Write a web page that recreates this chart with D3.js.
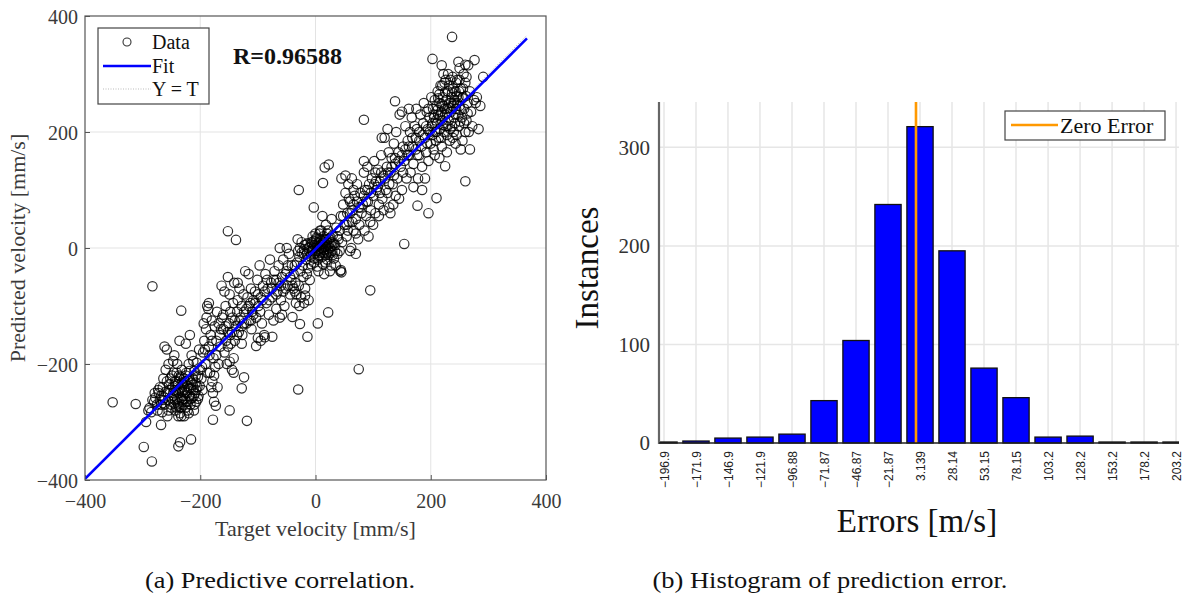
<!DOCTYPE html>
<html>
<head>
<meta charset="utf-8">
<script src="https://cdn.jsdelivr.net/npm/d3@7"></script>
<style>
  body { margin: 0; background: #fff; }
  svg { display: block; }
</style>
</head>
<body>
<svg id="fig" width="1198" height="600"></svg>
<script>
// ---------- (a) regression scatter: [target, predicted] in mm/s ----------
const samples = [
  // lower-left cluster
  [-290,-280],[-285,-283],[-288,-276],[-280,-265],[-278,-258],[-275,-270],[-272,-250],[-283,-262],[-270,-262],[-273,-245],
  [-268,-255],[-265,-240],[-262,-270],[-260,-248],[-258,-230],[-256,-262],[-255,-280],[-253,-245],[-252,-225],[-250,-258],
  [-264,-225],[-260,-210],[-258,-175],[-262,-170],[-255,-200],[-251,-270],[-266,-283],[-257,-290],
  [-248,-240],[-246,-255],[-245,-268],[-244,-230],[-243,-280],[-242,-248],[-241,-215],[-240,-260],[-239,-235],[-238,-272],
  [-237,-250],[-236,-225],[-235,-285],[-234,-242],[-233,-258],[-232,-210],[-231,-265],[-230,-235],[-249,-220],[-247,-195],
  [-245,-185],[-240,-200],[-236,-160],[-238,-290],[-233,-275],[-231,-248],[-244,-262],[-234,-222],
  [-228,-245],[-227,-260],[-226,-230],[-225,-275],[-224,-215],[-223,-250],[-222,-238],[-221,-265],[-220,-200],[-219,-255],
  [-218,-228],[-217,-270],[-216,-242],[-215,-185],[-214,-258],[-213,-225],[-212,-245],[-211,-280],[-210,-212],[-209,-250],
  [-208,-232],[-207,-265],[-206,-198],[-205,-240],[-204,-222],[-203,-255],[-202,-175],[-201,-238],[-200,-210],[-225,-165],
  [-218,-150],[-212,-195],[-228,-290],[-220,-285],
  [-247,-250],[-243,-238],[-239,-268],[-236,-245],[-232,-232],[-229,-255],[-226,-248],[-224,-265],[-221,-228],[-219,-242],
  [-216,-260],[-213,-236],[-210,-270],[-207,-245],[-204,-260],[-242,-275],[-237,-220],[-233,-290],[-229,-270],[-225,-220],
  [-222,-280],[-219,-212],[-215,-232],[-211,-255],[-208,-220],[-245,-245],[-241,-230],[-236,-275],[-232,-262],[-228,-225],
  [-254,-235],[-250,-275],[-246,-215],[-256,-250],[-262,-258],[-268,-270],[-274,-280],[-279,-250],[-270,-240],[-265,-262],
  // rising band
  [-198,-225],[-196,-245],[-195,-180],[-193,-160],[-191,-200],[-190,-140],[-189,-120],[-188,-100],[-186,-105],[-185,-170],
  [-183,-215],[-182,-150],[-180,-125],[-179,-230],[-178,-250],[-177,-190],[-176,-265],[-175,-135],[-174,-205],[-172,-160],
  [-171,-110],[-170,-240],[-185,-95],[-181,-240],[-197,-205],[-194,-130],
  [-192,-175],[-188,-215],[-184,-185],[-180,-160],[-176,-220],[-172,-185],[-168,-200],[-164,-140],[-160,-115],[-156,-135],
  [-152,-145],[-148,-150],[-144,-120],[-140,-160],[-136,-150],[-132,-125],[-128,-135],[-124,-110],[-120,-130],[-116,-100],
  [-112,-125],[-108,-115],[-104,-95],[-100,-80],[-96,-110],[-92,-90],[-88,-75],[-84,-55],[-80,-90],[-76,-70],
  [-72,-55],[-68,-80],[-64,-60],[-60,-65],[-56,-75],[-52,-45],[-48,-30],[-44,-50],[-40,-65],[-36,-30],
  [-168,-130],[-166,-150],[-165,-170],[-163,-65],[-162,-120],[-160,-140],[-158,-180],[-156,-100],[-155,-160],[-154,-200],
  [-152,-170],[-150,-130],[-149,-80],[-148,-110],[-147,-165],[-145,-145],[-143,-95],[-142,-190],[-141,-60],[-140,-125],
  [-152,-50],[-158,-75],[-145,-210],
  [-138,-135],[-136,-110],[-135,-90],[-133,-145],[-132,-70],[-130,-120],[-128,-100],[-127,-150],[-125,-80],[-124,-130],
  [-122,-40],[-120,-105],[-118,-85],[-116,-45],[-115,-125],[-113,-95],[-112,-70],[-111,-140],[-110,-110],[-135,-60],[-128,-165],
  [-108,-90],[-105,-75],[-103,-120],[-101,-55],[-99,-100],[-97,-30],[-95,-85],[-93,-130],[-91,-65],[-89,-150],
  [-87,-45],[-85,-95],[-83,-70],[-81,-115],[-79,-20],[-77,-60],[-75,-85],[-73,-125],[-71,-40],[-100,-155],[-95,-160],
  [-68,-55],[-66,-75],[-64,-30],[-62,0],[-60,-90],[-58,-50],[-56,-20],[-54,-100],[-52,-70],[-50,-40],
  [-48,-65],[-46,-10],[-44,-80],[-42,-55],[-41,-30],[-68,-105],[-62,-120],[-58,-115],[-50,0],
  [-38,-70],[-36,-75],[-35,-60],[-33,-80],[-32,-25],[-30,-5],[-29,-65],[-28,-15],[-27,0],[-26,-40],
  [-25,-85],[-24,10],[-22,-30],[-21,-50],[-20,-10],[-19,5],[-18,-70],[-16,-20],[-15,-45],[-14,8],
  [-13,-35],[-12,-90],[-11,-5],[-10,-55],[-34,-95],[-28,-100],[-20,-95],[-31,15],[-15,-10],[-38,-45],
  // cluster near zero
  [-9,2],[-8,-15],[-7,10],[-6,-5],[-5,20],[-4,0],[-3,-25],[-2,5],[-1,-10],[0,0],
  [1,15],[2,-5],[3,3],[4,-20],[5,8],[6,-2],[7,25],[8,5],[9,-8],[10,12],
  [11,0],[12,-15],[13,6],[14,20],[15,-3],[16,10],[17,-25],[18,2],[19,15],[20,-8],
  [21,5],[22,30],[23,-12],[24,8],[25,0],[26,18],[27,-30],[28,10],[29,-5],[30,22],
  [32,-18],[34,5],[36,35],[38,-10],[40,15],[5,-40],[15,-45],[25,-40],[35,-30],[8,30],
  [18,40],[28,50],[12,55],[20,-20],[45,-42],[44,-38],
  [-6,8],[-3,12],[0,-8],[2,18],[4,4],[6,-12],[8,16],[10,-4],[12,8],[14,-8],
  [16,2],[18,-12],[20,10],[22,-2],[24,16],[26,-8],[28,4],[30,-12],[32,8],[34,-6],
  [-12,0],[-16,6],[-20,-2],[-24,-8],[-8,-28],[3,-32],[13,-28],[38,20],[42,-5],[0,25],
  [10,30],[20,25],[15,14],[5,-14],[-2,-18],
  // upper band
  [42,30],[44,55],[46,10],[48,75],[50,40],[52,95],[54,20],[55,60],[57,110],[58,45],
  [60,80],[62,0],[63,120],[64,65],[66,30],[68,90],[70,50],[72,110],[74,15],[75,70],
  [76,40],[78,95],[80,60],[45,120],[52,125],[60,-5],[70,-10],[66,100],[58,85],
  [48,55],[54,40],[60,60],[66,75],[72,80],[78,70],[84,90],[90,100],[96,95],[102,110],
  [108,105],[114,130],[120,120],[126,130],[132,140],[138,155],[144,150],[150,160],[156,170],[162,175],
  [168,190],[174,170],[180,185],[186,195],[192,210],[198,200],[56,30],[64,45],[88,80],[112,95],
  [136,125],[160,160],[176,205],[194,180],[70,25],[104,130],[128,110],[152,130],[180,160],[196,240],
  [82,75],[84,130],[85,30],[86,100],[88,55],[90,140],[91,80],[93,110],[95,45],[96,65],
  [98,120],[100,90],[102,150],[104,60],[106,100],[108,135],[110,75],[112,115],[114,160],[116,85],
  [118,125],[120,190],[84,150],[92,20],[100,40],[110,55],[115,190],[118,65],[105,115],
  [122,100],[124,140],[125,95],[127,165],[128,70],[130,130],[132,155],[134,110],[136,180],[138,145],
  [139,90],[140,200],[142,120],[144,165],[146,230],[148,140],[150,100],[152,175],[154,150],[156,210],
  [158,120],[160,185],[135,75],[125,205],[150,235],[145,85],[130,60],
  [162,160],[164,200],[165,130],[167,225],[168,175],[170,145],[172,210],[174,190],[175,240],[177,160],
  [178,120],[180,200],[182,230],[184,175],[185,140],[187,215],[188,250],[190,190],[192,165],[193,235],
  [195,205],[196,150],[198,225],[200,180],[185,100],[190,120],[170,105],
  // upper-right cluster
  [201,260],[202,210],[203,195],[204,240],[205,170],[206,225],[207,255],[208,200],[209,185],[210,245],
  [211,215],[212,270],[213,230],[214,190],[215,250],[216,205],[217,280],[218,235],[219,175],[220,220],
  [221,260],[222,245],[223,200],[224,285],[225,230],[226,210],[227,255],[228,195],[229,240],[230,270],
  [231,220],[232,250],[233,185],[234,290],[235,235],[236,260],[237,210],[238,245],[239,275],[240,225],
  [207,160],[215,155],[228,165],[238,190],[222,300],[230,300],
  [205,230],[210,200],[213,258],[216,228],[219,248],[222,212],[225,268],[228,232],[231,242],[234,205],
  [237,268],[240,250],[243,230],[246,250],[249,270],[252,238],[255,258],[258,215],[261,262],[264,232],
  [220,280],[226,290],[232,280],[238,295],[244,285],[250,290],[256,275],[262,295],[215,265],[209,220],
  [218,190],[229,210],[240,200],[251,218],[260,200],[235,250],[245,262],[224,240],[212,238],[203,215],
  [241,255],[242,215],[243,270],[244,240],[245,195],[246,290],[247,230],[248,260],[249,210],[250,245],
  [252,275],[254,225],[255,185],[256,260],[258,240],[260,285],[262,220],[264,250],[266,200],[268,270],
  [270,235],[272,210],[275,255],[278,250],[280,260],[283,205],[286,245],[257,300],[250,310],[265,315],
  [243,180],[252,170],[268,170],
  // scattered points away from the diagonal
  [237,364],[203,326],[219,315],[248,321],[260,316],[276,324],[291,295],[84,221],[138,253],[162,240],
  [260,115],[225,141],[210,86],[196,60],[177,73],[154,7],[95,-73],[75,-209],[-30,-244],[-29,100],
  [16,139],[23,144],[13,112],[-3,70],[-152,29],[-138,14],[-283,-66],[-233,-108],[-352,-266],[-312,-269],
  [-294,-300],[-268,-305],[-298,-343],[-284,-368],[-238,-342],[-235,-335],[-216,-330],[-178,-296],[-119,-298],[-149,-280],
  [-173,-272],[-128,-242],[4,-130],[22,-111],[-14,-153],[-27,-131],[43,-40],[-18,-82],[-40,-119],[-75,-153],
  [-88,-154],[-103,-169],[-124,-223],[-142,-215],[-149,-196]
];
const fitRange = [-400, 367];      // target span covered by the fitted line
const fitSlope = 0.99;
const fitIntercept = -2;
const rValue = "R=0.96588";
const scatterTicks = [-400, -200, 0, 200, 400];

// ---------- (b) error histogram ----------
const binCenters = ["-196.9","-171.9","-146.9","-121.9","-96.88","-71.87","-46.87","-21.87","3.139",
                    "28.14","53.15","78.15","103.2","128.2","153.2","178.2","203.2"];
const binCounts  = [1, 2, 5, 6, 9, 43, 104, 242, 321, 195, 76, 46, 6, 7, 1, 1, 1];
const countTicks = [0, 100, 200, 300];

const svg = d3.select("#fig");
const serif = "'Liberation Serif', 'Times New Roman', serif";

// ================= panel (a) =================
const ax = { l: 85, r: 546, t: 16, b: 480 };
const x = d3.scaleLinear().domain([-400, 400]).range([ax.l, ax.r]);
const y = d3.scaleLinear().domain([-400, 400]).range([ax.b, ax.t]);

const pa = svg.append("g");

// grid
pa.append("g").selectAll("line").data(scatterTicks.slice(1, -1)).join("line")
  .attr("x1", d => x(d)).attr("x2", d => x(d)).attr("y1", ax.t).attr("y2", ax.b)
  .attr("stroke", "#e3e3e3").attr("stroke-width", 1);
pa.append("g").selectAll("line").data(scatterTicks.slice(1, -1)).join("line")
  .attr("y1", d => y(d)).attr("y2", d => y(d)).attr("x1", ax.l).attr("x2", ax.r)
  .attr("stroke", "#e3e3e3").attr("stroke-width", 1);

// axes (inward ticks)
const xAxisA = pa.append("g").attr("transform", `translate(0,${ax.b})`)
  .call(d3.axisBottom(x).tickValues(scatterTicks).tickSizeInner(-5).tickSizeOuter(0).tickPadding(12));
const yAxisA = pa.append("g").attr("transform", `translate(${ax.l},0)`)
  .call(d3.axisLeft(y).tickValues(scatterTicks).tickSizeInner(-5).tickSizeOuter(0).tickPadding(7));
[xAxisA, yAxisA].forEach(g => {
  g.select(".domain").remove();
  g.selectAll("line").attr("stroke", "#555");
  g.selectAll("text").attr("font-family", serif).attr("font-size", 20).attr("fill", "#3a3a3a");
});
yAxisA.selectAll("text").attr("dy", "0.35em");
xAxisA.selectAll("text").attr("dy", "0.8em");

svg.append("clipPath").attr("id", "clipA").append("rect")
  .attr("x", ax.l).attr("y", ax.t).attr("width", ax.r - ax.l).attr("height", ax.b - ax.t);
const plotA = pa.append("g").attr("clip-path", "url(#clipA)");

// Y = T reference (dotted)
plotA.append("line")
  .attr("x1", x(fitRange[0])).attr("y1", y(fitRange[0])).attr("x2", x(fitRange[1])).attr("y2", y(fitRange[1]))
  .attr("stroke", "#aaa").attr("stroke-width", 1).attr("stroke-dasharray", "1,2");

// samples
plotA.append("g").selectAll("circle").data(samples).join("circle")
  .attr("cx", d => x(d[0])).attr("cy", d => y(d[1])).attr("r", 4.7)
  .attr("fill", "none").attr("stroke", "#000").attr("stroke-opacity", 0.82).attr("stroke-width", 1.2);

// fitted line
plotA.append("line")
  .attr("x1", x(fitRange[0])).attr("y1", y(fitSlope * fitRange[0] + fitIntercept))
  .attr("x2", x(fitRange[1])).attr("y2", y(fitSlope * fitRange[1] + fitIntercept))
  .attr("stroke", "#0000ff").attr("stroke-width", 2.6);

// frame
pa.append("rect").attr("x", ax.l).attr("y", ax.t).attr("width", ax.r - ax.l).attr("height", ax.b - ax.t)
  .attr("fill", "none").attr("stroke", "#555").attr("stroke-width", 1.2);

// legend
const lg = pa.append("g");
lg.append("rect").attr("x", 98).attr("y", 28).attr("width", 111).attr("height", 76)
  .attr("fill", "#fff").attr("stroke", "#444").attr("stroke-width", 1.2);
lg.append("circle").attr("cx", 127).attr("cy", 42).attr("r", 4)
  .attr("fill", "none").attr("stroke", "#333").attr("stroke-width", 1.1);
lg.append("line").attr("x1", 103).attr("x2", 151).attr("y1", 66).attr("y2", 66)
  .attr("stroke", "#0000ff").attr("stroke-width", 2.6);
lg.append("line").attr("x1", 103).attr("x2", 151).attr("y1", 89).attr("y2", 89)
  .attr("stroke", "#bbb").attr("stroke-width", 1).attr("stroke-dasharray", "1,1.5");
[["Data", 42], ["Fit", 66], ["Y = T", 89]].forEach(([t, yy]) => {
  lg.append("text").attr("x", 152).attr("y", yy).attr("dy", "0.35em")
    .attr("font-family", serif).attr("font-size", 20).attr("fill", "#111").text(t);
});

pa.append("text").attr("x", 233).attr("y", 56).attr("dy", "0.35em")
  .attr("font-family", serif).attr("font-size", 24).attr("font-weight", "bold").attr("fill", "#111")
  .text(rValue);

pa.append("text").attr("x", (ax.l + ax.r) / 2).attr("y", 536).attr("text-anchor", "middle")
  .attr("font-family", serif).attr("font-size", 22).attr("fill", "#3a3a3a").text("Target velocity [mm/s]");
pa.append("text").attr("transform", `translate(25,${(ax.t + ax.b) / 2}) rotate(-90)`)
  .attr("text-anchor", "middle").attr("font-family", serif).attr("font-size", 22).attr("fill", "#3a3a3a")
  .text("Predicted velocity [mm/s]");

// ================= panel (b) =================
const bx = { l: 659, r: 1179, t: 102, b: 443 };
const centers = binCenters.map(Number);
const hx = d3.scaleLinear().domain([-200.8, 205.5]).range([bx.l, bx.r]);
const hy = d3.scaleLinear().domain([0, 346]).range([bx.b, bx.t]);
const step = hx(centers[1]) - hx(centers[0]);
const barW = step * 0.82;

const pb = svg.append("g");

// grid
pb.append("g").selectAll("line").data(centers).join("line")
  .attr("x1", d => hx(d)).attr("x2", d => hx(d)).attr("y1", bx.t).attr("y2", bx.b)
  .attr("stroke", "#e6e6e6").attr("stroke-width", 1.5);
pb.append("g").selectAll("line").data(countTicks.slice(1)).join("line")
  .attr("y1", d => hy(d)).attr("y2", d => hy(d)).attr("x1", bx.l).attr("x2", bx.r)
  .attr("stroke", "#e6e6e6").attr("stroke-width", 1.5);

svg.append("clipPath").attr("id", "clipB").append("rect")
  .attr("x", bx.l).attr("y", bx.t - 2).attr("width", bx.r - bx.l).attr("height", bx.b - bx.t + 4);
const plotB = pb.append("g").attr("clip-path", "url(#clipB)");

plotB.append("g").selectAll("rect").data(binCounts).join("rect")
  .attr("x", (d, i) => hx(centers[i]) - barW / 2).attr("width", barW)
  .attr("y", d => hy(d)).attr("height", d => hy(0) - hy(d))
  .attr("fill", "#0000ff").attr("stroke", "#111").attr("stroke-width", 1.3);

// zero error marker
plotB.append("line").attr("x1", hx(0)).attr("x2", hx(0)).attr("y1", bx.t).attr("y2", bx.b)
  .attr("stroke", "#ff9900").attr("stroke-width", 2.6);

// axes
pb.append("line").attr("x1", bx.l).attr("x2", bx.l).attr("y1", bx.t).attr("y2", bx.b + 1)
  .attr("stroke", "#666").attr("stroke-width", 2.2);
pb.append("line").attr("x1", bx.l).attr("x2", bx.r).attr("y1", bx.b).attr("y2", bx.b)
  .attr("stroke", "#222").attr("stroke-width", 1.6);

const yAxisB = pb.append("g").attr("transform", `translate(${bx.l},0)`)
  .call(d3.axisLeft(hy).tickValues(countTicks).tickSize(0).tickPadding(9));
yAxisB.select(".domain").remove();
yAxisB.selectAll("text").attr("font-family", serif).attr("font-size", 21).attr("fill", "#333");

const xAxisB = pb.append("g").attr("transform", `translate(0,${bx.b})`)
  .call(d3.axisBottom(hx).tickValues(centers).tickFormat((d, i) => binCenters[i].replace("-", "\u2212"))
        .tickSize(0).tickPadding(0));
xAxisB.select(".domain").remove();
xAxisB.selectAll("text")
  .attr("font-family", "'Liberation Sans', Arial, sans-serif").attr("font-size", 12).attr("fill", "#222")
  .attr("text-anchor", "end").attr("dy", "0.35em")
  .attr("transform", "translate(0,8) rotate(-90)");

// legend
const lb = pb.append("g");
lb.append("rect").attr("x", 1005).attr("y", 111).attr("width", 160).attr("height", 29)
  .attr("fill", "#fff").attr("stroke", "#444").attr("stroke-width", 1.2);
lb.append("line").attr("x1", 1011).attr("x2", 1058).attr("y1", 125).attr("y2", 125)
  .attr("stroke", "#ff9900").attr("stroke-width", 2.6);
lb.append("text").attr("x", 1060).attr("y", 125).attr("dy", "0.35em")
  .attr("font-family", serif).attr("font-size", 22).attr("fill", "#111").text("Zero Error");

pb.append("text").attr("x", (bx.l + bx.r) / 2 - 2).attr("y", 532).attr("text-anchor", "middle")
  .attr("font-family", serif).attr("font-size", 33).attr("fill", "#111").text("Errors [m/s]");
pb.append("text").attr("transform", `translate(598,268) rotate(-90)`).attr("text-anchor", "middle")
  .attr("font-family", serif).attr("font-size", 33).attr("fill", "#111").text("Instances");

// ================= captions =================
svg.append("text").attr("x", 280).attr("y", 588).attr("text-anchor", "middle")
  .attr("font-family", serif).attr("font-size", 23).attr("fill", "#111")
  .attr("textLength", 270).attr("lengthAdjust", "spacingAndGlyphs")
  .text("(a) Predictive correlation.");
svg.append("text").attr("x", 830).attr("y", 588).attr("text-anchor", "middle")
  .attr("font-family", serif).attr("font-size", 23).attr("fill", "#111")
  .attr("textLength", 355).attr("lengthAdjust", "spacingAndGlyphs")
  .text("(b) Histogram of prediction error.");
</script>
</body>
</html>
